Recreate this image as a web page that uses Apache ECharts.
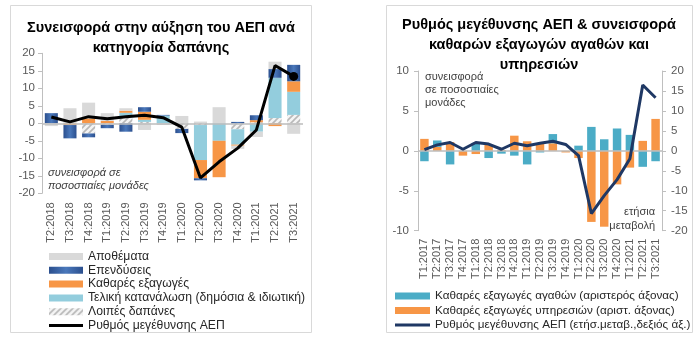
<!DOCTYPE html>
<html>
<head>
<meta charset="utf-8">
<script src="https://cdn.jsdelivr.net/npm/echarts@6/dist/echarts.min.js"></script>
<style>html,body{margin:0;padding:0;background:#fff}#c{width:700px;height:343px}</style>
</head>
<body>
<div id="c"></div>
<script>
// ---- Left chart data (contributions, p.p.) ----
const catsL = ['T2:2018','T3:2018','T4:2018','T1:2019','T2:2019','T3:2019','T4:2019','T1:2020','T2:2020','T3:2020','T4:2020','T1:2021','T2:2021','T3:2021'];
const otherL  = [0, 0, -2.9, -0.4, 1.8, 0.4, 0, -1.6, -0.5, 0, -1.7, 0.3, 1.5, 2.4];
const consL   = [0, 0, 0, 0, 1.2, 0.6, 2.2, 0, -10.0, -5.0, -4.4, -2.4, 11.5, 6.6];
const netExpL = [0, -0.5, 1.4, 0.7, 0.6, 2.3, 0, 0, -5.2, -10.4, -0.3, 0.6, -0.8, 3.0];
const investL = [2.9, -3.8, -1.1, -1.0, -2.4, 1.3, 0.2, -1.2, -0.6, 0, 0.4, 1.4, 2.5, 4.7];
const inventL = [-0.8, 4.3, 4.5, 2.2, 0.7, -1.9, -0.5, 2.1, 0.5, 4.6, -0.9, -1.5, 2.1, -3.0];
const gdpL    = [1.8, 0.4, 1.9, 1.3, 1.9, 2.3, 1.6, -1.1, -15.6, -11.0, -7.1, -1.9, 16.5, 13.4];

// ---- Right chart data ----
const catsR = ['T1:2017','T2:2017','T3:2017','T4:2017','T1:2018','T2:2018','T3:2018','T4:2018','T1:2019','T2:2019','T3:2019','T4:2019','T1:2020','T2:2020','T3:2020','T4:2020','T1:2021','T2:2021','T3:2021'];
const goodsR    = [-1.3, 0.8, -1.7, 0, 1.0, -0.9, -0.35, -0.6, -1.7, -0.2, 1.15, 0, 0.65, 3.0, 1.45, 2.8, 2.0, -2.0, -1.3];
const servicesR = [1.5, 0.5, 1.1, -0.6, -0.4, 0.75, 0.1, 1.9, 1.2, 0.95, 0.95, -0.2, -0.9, -8.9, -9.5, -4.2, -2.1, 1.25, 4.0];
const gdpR      = [0.3, 1.5, 2.1, 0.4, 2.1, 1.7, 0.4, 1.9, 1.3, 1.9, 2.4, 1.6, -1.2, -15.7, -11.2, -7.2, -2.0, 16.5, 13.3];

const leftTicks = [-20, 20, 5];
const rightTicksL = [-10, 10, 5];
const rightTicksR = [-20, 20, 5];

const FONT = 'Liberation Sans';
const AXC = '#595959';

// hatch pattern
const pc = document.createElement('canvas');
pc.width = 6; pc.height = 6;
const g = pc.getContext('2d');
g.fillStyle = '#f4f4f4'; g.fillRect(0,0,6,6);
g.strokeStyle = '#b8b8b8'; g.lineWidth = 1.6;
g.beginPath(); g.moveTo(-1,7); g.lineTo(7,-1); g.moveTo(-1,1); g.lineTo(1,-1); g.moveTo(5,7); g.lineTo(7,5); g.stroke();
const hatch = {image: pc, repeat: 'repeat'};

const investColor = new echarts.graphic.LinearGradient(0,0,1,0,[
  {offset:0,color:'#2b4f8e'},{offset:0.5,color:'#4a78bb'},{offset:1,color:'#2b4f8e'}]);

const chart = echarts.init(document.getElementById('c'), null, {renderer:'canvas'});

function yAx(grid, r, pos, margin) {
  return {
    gridIndex: grid, type:'value', position: pos, min:r[0], max:r[1], interval:r[2],
    axisLine:{show:true, lineStyle:{color:'#bfbfbf', width:1}},
    axisTick:{show:true, length:4, lineStyle:{color:'#bfbfbf'}},
    splitLine:{show:false},
    axisLabel:{margin: margin, fontSize:11.5, color:AXC, fontFamily:FONT}
  };
}
function xAx(grid, cats, margin) {
  return {
    gridIndex: grid, type:'category', data: cats,
    axisLine:{show:false, onZero:false}, axisTick:{show:false},
    axisLabel:{rotate:90, interval:0, margin: margin, fontSize:11, color:AXC, fontFamily:FONT}
  };
}
const zeroLine = {silent:true, symbol:['none','none'], label:{show:false},
  lineStyle:{color:'#bdbdbd', type:'solid', width:1.5}, data:[{yAxis:0}]};

function barL(name, data, color) {
  return {name, type:'bar', stack:'L', xAxisIndex:0, yAxisIndex:0, data,
    barCategoryGap:'30%', itemStyle:{color}};
}

const option = {
  animation:false,
  grid:[
    {left:42, right:397, top:53.3, bottom:149.7},
    {left:418, right:38, top:71, bottom:112.3}
  ],
  xAxis:[ xAx(0, catsL, 9), xAx(1, catsR, 8) ],
  yAxis:[ yAx(0, leftTicks, 'left', 7), yAx(1, rightTicksL, 'left', 9), yAx(1, rightTicksR, 'right', 9) ],
  legend:[
    {orient:'vertical', left:49, top:250, padding:0, itemWidth:34, itemHeight:7, itemGap:0.8,
     textStyle:{fontSize:12.2, color:'#262626', fontFamily:FONT, lineHeight:13},
     data:[
       {name:'Αποθέματα', icon:'rect'},
       {name:'Επενδύσεις', icon:'rect'},
       {name:'Καθαρές εξαγωγές', icon:'rect'},
       {name:'Τελική κατανάλωση (δημόσια & ιδιωτική)', icon:'rect'},
       {name:'Λοιπές δαπάνες', icon:'rect'},
       {name:'Ρυθμός μεγέθυνσης ΑΕΠ', icon:'path://M0,0H34V3H0Z'}
     ]},
    {orient:'vertical', left:395, top:289, padding:0, itemWidth:35, itemHeight:7, itemGap:0.5,
     textStyle:{fontSize:11.7, color:'#262626', fontFamily:FONT, lineHeight:14},
     data:[
       {name:'Καθαρές εξαγωγές αγαθών (αριστερός άξονας)', icon:'rect'},
       {name:'Καθαρές εξαγωγές υπηρεσιών (αριστ. άξονας)', icon:'rect'},
       {name:'Ρυθμός μεγέθυνσης ΑΕΠ (ετήσ.μεταβ.,δεξιός άξ.)', icon:'path://M0,0H35V3H0Z'}
     ]}
  ],
  series:[
    barL('Λοιπές δαπάνες', otherL, hatch),
    barL('Τελική κατανάλωση (δημόσια & ιδιωτική)', consL, '#93cddd'),
    barL('Καθαρές εξαγωγές', netExpL, '#f79646'),
    barL('Επενδύσεις', investL, investColor),
    Object.assign(barL('Αποθέματα', inventL, '#d9d9d9'), {markLine: zeroLine}),
    {name:'Ρυθμός μεγέθυνσης ΑΕΠ', type:'line', xAxisIndex:0, yAxisIndex:0, color:'#000',
     symbol:'none', z:5,
     data: gdpL.map((v,i)=> i===gdpL.length-1 ? {value:v, symbol:'circle', symbolSize:9, itemStyle:{color:'#000'}} : v),
     lineStyle:{color:'#000', width:3}, itemStyle:{color:'#000'}},
    {name:'Καθαρές εξαγωγές υπηρεσιών (αριστ. άξονας)', type:'bar', stack:'R', xAxisIndex:1, yAxisIndex:1,
     data: servicesR, barCategoryGap:'34%', itemStyle:{color:'#f79646'}},
    {name:'Καθαρές εξαγωγές αγαθών (αριστερός άξονας)', type:'bar', stack:'R', xAxisIndex:1, yAxisIndex:1,
     data: goodsR, barCategoryGap:'34%', itemStyle:{color:'#4bacc6'}, markLine: zeroLine},
    {name:'Ρυθμός μεγέθυνσης ΑΕΠ (ετήσ.μεταβ.,δεξιός άξ.)', type:'line', xAxisIndex:1, yAxisIndex:2, color:'#1f3864',
     symbol:'none', z:5, data: gdpR, lineStyle:{color:'#1f3864', width:3}, itemStyle:{color:'#1f3864'}}
  ],
  graphic:[
    {type:'rect', silent:true, z:-1, shape:{x:10.5, y:5.5, width:301, height:327}, style:{fill:'none', stroke:'#d9d9d9', lineWidth:1}},
    {type:'rect', silent:true, z:-1, shape:{x:386.5, y:5.5, width:306, height:327}, style:{fill:'none', stroke:'#d9d9d9', lineWidth:1}},
    {type:'text', x:161, y:18, style:{text:'Συνεισφορά στην αύξηση του ΑΕΠ ανά\nκατηγορία δαπάνης', textAlign:'center', textVerticalAlign:'top',
      font:'bold 14.5px "Liberation Sans"', lineHeight:20, fill:'#000'}},
    {type:'text', x:539, y:15, style:{text:'Ρυθμός μεγέθυνσης ΑΕΠ & συνεισφορά\nκαθαρών εξαγωγών αγαθών και\nυπηρεσιών', textAlign:'center', textVerticalAlign:'top',
      font:'bold 14.5px "Liberation Sans"', lineHeight:20, fill:'#000'}},
    {type:'text', x:48, y:166, style:{text:'συνεισφορά σε\nποσοστιαίες μονάδες', textAlign:'left', textVerticalAlign:'top',
      font:'italic 11px "Liberation Sans"', lineHeight:13, fill:'#404040'}},
    {type:'text', x:425, y:70, style:{text:'συνεισφορά\nσε ποσοστιαίες\nμονάδες', textAlign:'left', textVerticalAlign:'top',
      font:'11px "Liberation Sans"', lineHeight:13, fill:'#404040'}},
    {type:'text', x:655, y:205, style:{text:'ετήσια\nμεταβολή', textAlign:'right', textVerticalAlign:'top',
      font:'11px "Liberation Sans"', lineHeight:14, fill:'#404040'}}
  ]
};
chart.setOption(option);
</script>
</body>
</html>
